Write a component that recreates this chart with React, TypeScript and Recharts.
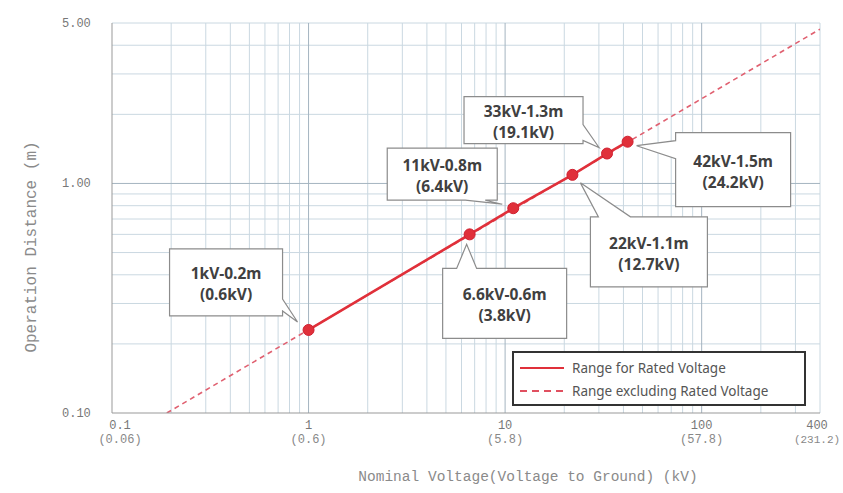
import React from 'react';
import { LineChart, Line, XAxis, YAxis, CartesianGrid, Customized } from 'recharts';

// ---- data ----
const ratedVoltages = [1, 6.6, 11, 22, 33, 42];
const ratedDistances = [0.23, 0.6, 0.78, 1.09, 1.35, 1.52];
const calloutTitles = ['1kV-0.2m', '6.6kV-0.6m', '11kV-0.8m', '22kV-1.1m', '33kV-1.3m', '42kV-1.5m'];
const calloutSubs = ['(0.6kV)', '(3.8kV)', '(6.4kV)', '(12.7kV)', '(19.1kV)', '(24.2kV)'];

const extVoltages = [0.19, 400];
const extDistances = [0.1, 4.7];

const xTicks = [0.1, 1, 10, 100, 400];
const xTickSubs = ['(0.06)', '(0.6)', '(5.8)', '(57.8)', '(231.2)'];
const yTicks = [0.1, 1, 5];
const yTickLabels = ['0.10', '1.00', '5.00'];

const minorX = [0.2, 0.3, 0.4, 0.5, 0.6, 0.7, 0.8, 0.9, 2, 3, 4, 5, 6, 7, 8, 9, 20, 30, 40, 50, 60, 70, 80, 90, 200, 300, 400];
const majorX = [1, 10, 100];
const minorY = [0.2, 0.3, 0.4, 0.5, 0.6, 0.7, 0.8, 0.9, 2, 3, 4, 5];
const majorY = [1];

const ratedData = ratedVoltages.map((v, i) => ({ v, d: ratedDistances[i] }));
const extData = extVoltages.map((v, i) => ({ v, d: extDistances[i] }));

// callout layout (box offset from point, size, tail edge, base range, tip offset)
const calloutLayout = [
  { dx: -139, dy: -81, w: 113, h: 67, edge: 'right', b1: 50, b2: 62, tx: -11, ty: -8 },
  { dx: -27, dy: 34, w: 124, h: 70, edge: 'top', b1: 14, b2: 34, tx: -3, ty: 10 },
  { dx: -126, dy: -60, w: 110, h: 52, edge: 'bottom', b1: 78, b2: 98, tx: -11, ty: -4 },
  { dx: 18, dy: 42, w: 117, h: 70, edge: 'top', b1: 8, b2: 40, tx: 8, ty: 8 },
  { dx: -143, dy: -57, w: 119, h: 47, edge: 'right', b1: 28, b2: 44, tx: -8, ty: -6 },
  { dx: 48, dy: -9, w: 115, h: 74, edge: 'left', b1: 8, b2: 26, tx: 9, ty: 4 },
];

const RED = '#e0303a';

function calloutPath(x: number, y: number, w: number, h: number, edge: string, b1: number, b2: number, tx: number, ty: number) {
  let p = `M ${x} ${y} `;
  if (edge === 'top') p += `L ${x + b1} ${y} L ${tx} ${ty} L ${x + b2} ${y} `;
  p += `L ${x + w} ${y} `;
  if (edge === 'right') p += `L ${x + w} ${y + b1} L ${tx} ${ty} L ${x + w} ${y + b2} `;
  p += `L ${x + w} ${y + h} `;
  if (edge === 'bottom') p += `L ${x + b2} ${y + h} L ${tx} ${ty} L ${x + b1} ${y + h} `;
  p += `L ${x} ${y + h} `;
  if (edge === 'left') p += `L ${x} ${y + b2} L ${tx} ${ty} L ${x} ${y + b1} `;
  return p + 'Z';
}

const RatedDot = (props: any) => {
  const { cx, cy, index } = props;
  const L = calloutLayout[index];
  const bx = cx + L.dx;
  const by = cy + L.dy;
  return (
    <g key={`dot-${index}`}>
      <path
        d={calloutPath(bx, by, L.w, L.h, L.edge, L.b1, L.b2, cx + L.tx, cy + L.ty)}
        fill="#ffffff"
        stroke="#8c8c8c"
        strokeWidth={1.2}
      />
      <text
        x={bx + L.w / 2}
        y={by + L.h / 2 - 3}
        textAnchor="middle"
        fontFamily="'Noto Sans', sans-serif"
        fontWeight="bold"
        fontSize={15.5}
        fill="#404040"
      >
        {calloutTitles[index]}
      </text>
      <text
        x={bx + L.w / 2}
        y={by + L.h / 2 + 18}
        textAnchor="middle"
        fontFamily="'Noto Sans', sans-serif"
        fontWeight="bold"
        fontSize={15.5}
        fill="#404040"
      >
        {calloutSubs[index]}
      </text>
      <circle cx={cx} cy={cy} r={5.5} fill={RED} stroke="#d02030" strokeWidth={1} />
    </g>
  );
};

const XTick = (props: any) => {
  const { x, y, payload } = props;
  const i = xTicks.indexOf(payload.value);
  const ox = i === 0 ? 8 : i === xTicks.length - 1 ? -3 : 0;
  return (
    <g>
      <text x={x + ox} y={y + 8} textAnchor="middle" fontFamily="'Liberation Mono', monospace" fontSize={12} fill="#777">
        {String(payload.value)}
      </text>
      <text x={x + ox} y={y + 22} textAnchor="middle" fontFamily="'Liberation Mono', monospace" fontSize={i === xTicks.length - 1 ? 11 : 12} fill="#888">
        {xTickSubs[i]}
      </text>
    </g>
  );
};

const YTick = (props: any) => {
  const { y, payload } = props;
  const i = yTicks.indexOf(payload.value);
  return (
    <text x={62} y={y + 4} textAnchor="start" fontFamily="'Liberation Mono', monospace" fontSize={12} fill="#777">
      {yTickLabels[i]}
    </text>
  );
};

const Decorations = () => (
  <g>
    <text
      x={528}
      y={481}
      textAnchor="middle"
      fontFamily="'Liberation Mono', monospace"
      fontSize={14.5}
      fill="#8a8a8a"
    >
      Nominal Voltage(Voltage to Ground) (kV)
    </text>
    <text
      x={0}
      y={0}
      transform="translate(36,247) rotate(-90)"
      textAnchor="middle"
      fontFamily="'Liberation Mono', monospace"
      fontSize={16}
      fill="#8a8a8a"
    >
      Operation Distance (m)
    </text>
    <rect x={513} y={352} width={292} height={53} fill="#ffffff" stroke="#333" strokeWidth={2} />
    <line x1={520} y1={368} x2={564} y2={368} stroke={RED} strokeWidth={2.2} />
    <line x1={520} y1={391} x2={564} y2={391} stroke="#e05060" strokeWidth={2} strokeDasharray="7 5" />
    <text x={572} y={373} fontFamily="'Noto Sans', sans-serif" fontSize={13.5} fill="#555">
      Range for Rated Voltage
    </text>
    <text x={572} y={396} fontFamily="'Noto Sans', sans-serif" fontSize={13.5} fill="#555">
      Range excluding Rated Voltage
    </text>
  </g>
);

export default function App() {
  return (
    <div style={{ position: 'absolute', left: 0, top: 0, background: '#fff' }}>
      <LineChart width={843} height={493} margin={{ top: 23, right: 23, left: 12, bottom: 0 }}>
        <CartesianGrid verticalValues={minorX} horizontalValues={minorY} stroke="#cad8e1" strokeWidth={1} />
        <CartesianGrid verticalValues={majorX} horizontalValues={majorY} stroke="#a4b4c0" strokeWidth={1} />
        <XAxis
          type="number"
          dataKey="v"
          scale="log"
          domain={[0.1, 400]}
          ticks={xTicks}
          tick={<XTick />}
          tickLine={false}
          axisLine={{ stroke: '#999' }}
          height={80}
          allowDataOverflow
          interval={0}
        />
        <YAxis
          type="number"
          dataKey="d"
          scale="log"
          domain={[0.1, 5]}
          ticks={yTicks}
          tick={<YTick />}
          tickLine={false}
          axisLine={{ stroke: '#999' }}
          width={100}
          allowDataOverflow
          interval={0}
        />
        <Line
          data={extData}
          dataKey="d"
          stroke="#e06070"
          strokeWidth={1.6}
          strokeDasharray="5 4"
          dot={false}
          isAnimationActive={false}
        />
        <Line
          data={ratedData}
          dataKey="d"
          stroke={RED}
          strokeWidth={2.6}
          dot={<RatedDot />}
          isAnimationActive={false}
        />
        <Customized component={<Decorations />} />
      </LineChart>
    </div>
  );
}
